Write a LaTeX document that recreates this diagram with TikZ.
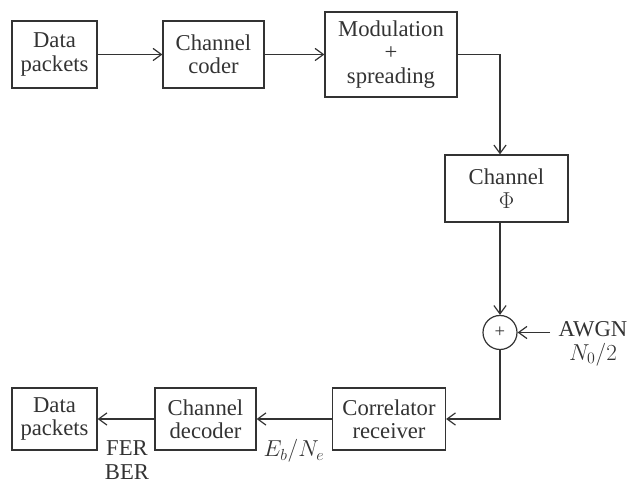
\documentclass[tikz,border=0pt]{standalone}
\usepackage{fontspec}
\setmainfont{Liberation Serif}
\usepackage{tikz}
\usetikzlibrary{arrows.meta,positioning}
\definecolor{ink}{HTML}{333333}

\begin{document}
\begin{tikzpicture}[
      x=0.75pt,y=-0.75pt,
      every node/.style={font=\fontsize{17}{17.5}\selectfont,text=ink},
      blk/.style={draw=ink,line width=0.9pt,align=center,inner sep=2pt},
      arr/.style={-{Straight Barb[length=2.2mm,width=3.2mm]},line width=0.9pt,draw=ink},
  ]
    \useasboundingbox (0,0) rectangle (636,491);

    % transmitter chain
    \node[blk,minimum width=63.75pt,minimum height=50.25pt] (src) at (54.5,54.5)
      {Data\\packets};
    \node[blk,minimum width=75.75pt,minimum height=50.25pt] (coder) at (213.5,54.5)
      {Channel\\coder};
    \node[blk,minimum width=99pt,minimum height=63.75pt] (mod) at (391,54.5)
      {Modulation\\+\\spreading};
    \node[blk,minimum width=92.25pt,minimum height=50.25pt] (chan) at (506.5,188.5)
      {Channel\\$\Phi$};

    % noise
    \node[draw=ink,line width=0.9pt,circle,minimum size=25.5pt,inner sep=0pt,
          font=\fontsize{14}{14}\selectfont] (sum) at (500,332.5) {+};
    \coordinate (noise) at (550,332.5);
    \node[align=center] (awgn) at (593,344) {AWGN\\$N_0/2$};

    % receiver chain
    \node[blk,minimum width=84.75pt,minimum height=46.5pt] (corr) at (389,419)
      {Correlator\\receiver};
    \node[blk,minimum width=75.75pt,minimum height=46.5pt] (dec) at (205.5,419)
      {Channel\\decoder};
    \node[blk,minimum width=63.75pt,minimum height=46.5pt] (sink) at (54.5,419)
      {Data\\packets};

    \node (snr) at (294,451) {$E_b/N_e$};
    \node[align=center] (err) at (127,460) {FER\\BER};

    \draw[arr] (src) -- (coder);
    \draw[arr] (coder) -- (coder -| mod.west);
    \draw[arr] (mod.east) -| (sum |- chan.north);
    \draw[arr] (sum |- chan.south) -- (sum);
    \draw[arr] (noise) -- (sum);
    \draw[arr] (sum.south) |- (corr.east);
    \draw[arr] (corr) -- (dec);
    \draw[arr] (dec) -- (sink);
\end{tikzpicture}
\end{document}
